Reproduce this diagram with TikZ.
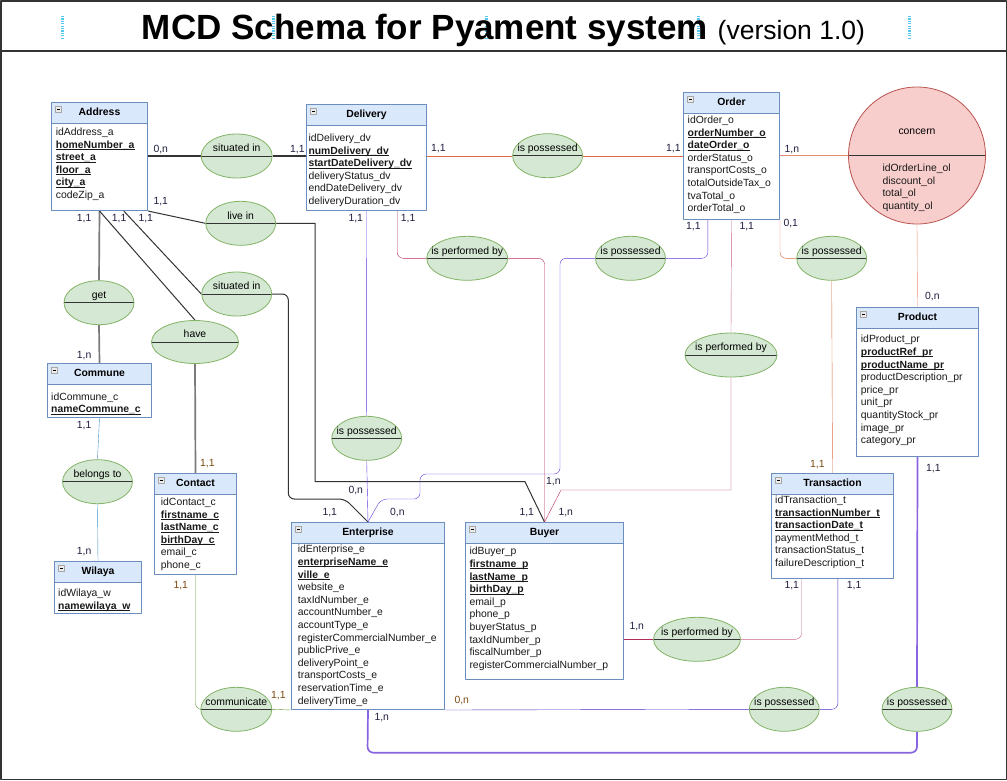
\documentclass[tikz,border=0pt]{standalone}
\usepackage{fontspec}
\setmainfont{Liberation Sans}
\usepackage{tikz}
\usetikzlibrary{shapes.geometric, backgrounds}

\definecolor{headfill}{HTML}{DAE8FC}
\definecolor{headline}{HTML}{6C8EBF}
\definecolor{relfill}{HTML}{D5E8D4}
\definecolor{relline}{HTML}{82B366}
\definecolor{ordfill}{HTML}{F8CECC}
\definecolor{ordline}{HTML}{B85450}
\definecolor{cardtext}{HTML}{1F1F3F}
\definecolor{cardbrown}{HTML}{7A4A10}
\definecolor{greyline}{HTML}{7A7A7A}
\definecolor{darkline}{HTML}{333333}
\definecolor{blueline}{HTML}{3F90CC}
\definecolor{greenline}{HTML}{5F9232}
\definecolor{violetA}{HTML}{6238E4}
\definecolor{violetB}{HTML}{4F2AC8}
\definecolor{violetC}{HTML}{8864E0}
\definecolor{crimsonA}{HTML}{B82A56}
\definecolor{rosy}{HTML}{CC648C}
\definecolor{orangeA}{HTML}{DE6C40}
\definecolor{salmon}{HTML}{E58C70}
\definecolor{handle}{HTML}{55C8F0}

\newcommand\keyattr[1]{\setbox0\hbox{\bfseries #1}\rlap{\rule[-1.7pt]{\wd0}{0.7pt}}\box0}
\newcommand\mkentity[6]{% name, left, top, width, height, title
  \node[ebody, minimum width=#4pt, minimum height=#5pt] (#1) at (#2,#3) {};
  \node[ehead, minimum width=#4pt] (#1-head) at (#2,#3) {#6};
  \node[emark] (#1-mark) at ([xshift=7.5pt,yshift=-7.5pt]#1.north west) {\rule{3.5pt}{0.6pt}};
}
\newcommand\mkattrs[4]{% name, x, first baseline, list
  \foreach \t [count=\i] in {#4}
    \node[attr] (#1-\i) at (#2, {#3+12.6*(\i-1)}) {\t};
}

\begin{document}
\begin{tikzpicture}[x=1pt, y=-1pt, font=\fontsize{10.4}{12.6}\selectfont, line join=round,
    ebody/.style={anchor=north west, draw=headline, fill=white, inner sep=0, line width=1pt},
    ehead/.style={anchor=north west, draw=headline, fill=headfill, inner sep=0, line width=1pt,
      minimum height=20.5pt, text height=7.5pt, text depth=2pt, font=\fontsize{10.4}{12.6}\selectfont\bfseries},
    emark/.style={draw=gray!70, fill=gray!15, minimum size=6pt, inner sep=0, line width=0.5pt},
    attr/.style={anchor=base west, inner sep=0, text=black!90},
    divider/.style={path picture={\draw[darkline, line width=0.9pt]
      (path picture bounding box.west) -- (path picture bounding box.east);}},
    rel/.style={ellipse, draw=relline, fill=relfill, minimum height=44pt, inner sep=0, line width=0.8pt, divider},
    rlab/.style={yshift=7pt, inner sep=0, text height=7.5pt, text depth=2pt},
    card/.style={anchor=west, inner sep=0, text=cardtext},
    handlemark/.style={handle, line width=3pt, dash pattern=on 1.2pt off 1.2pt}]

  \useasboundingbox (0,0) rectangle (1007,780);
  \draw[darkline, line width=1.5pt] (0.75,0.75) rectangle (1006.25,779.25);
  \draw[darkline, line width=1.2pt] (0,51) -- (1007,51);

  % title
  \foreach \hx in {62.3,273,486,698,909.5}
    \draw[handlemark] (\hx,16) -- (\hx,38);
  \node[anchor=base, inner sep=0] (title) at (503.5,39.3)
    {\fontsize{35}{36}\selectfont\bfseries MCD Schema for Pyament system
     \fontsize{26.5}{28}\selectfont\mdseries(version 1.0)};

  % entities
  \mkentity{addr}{51}{102}{96}{108}{Address}
  \mkattrs{addr}{55.7}{135.5}{idAddress\_a, \keyattr{homeNumber\_a}, \keyattr{street\_a}, \keyattr{floor\_a}, \keyattr{city\_a}, codeZip\_a}
  \mkentity{deliv}{306}{104}{120}{106}{Delivery}
  \mkattrs{deliv}{308.3}{141.5}{idDelivery\_dv, \keyattr{numDelivery\_dv}, \keyattr{startDateDelivery\_dv}, deliveryStatus\_dv, endDateDelivery\_dv, deliveryDuration\_dv}
  \mkentity{order}{683}{92}{96}{127}{Order}
  \mkattrs{order}{687.5}{123.5}{idOrder\_o, \keyattr{orderNumber\_o}, \keyattr{dateOrder\_o}, orderStatus\_o, transportCosts\_o, totalOutsideTax\_o, tvaTotal\_o, orderTotal\_o}
  \mkentity{commune}{47}{363}{104}{54}{Commune}
  \mkattrs{commune}{51}{400.2}{idCommune\_c, \keyattr{nameCommune\_c}}
  \mkentity{wilaya}{54}{561}{87}{52}{Wilaya}
  \mkattrs{wilaya}{58}{596.8}{idWilaya\_w, \keyattr{namewilaya\_w}}
  \mkentity{contact}{154}{473}{82}{101}{Contact}
  \mkattrs{contact}{160.7}{505.5}{idContact\_c, \keyattr{firstname\_c}, \keyattr{lastName\_c}, \keyattr{birthDay\_c}, email\_c, phone\_c}
  \mkentity{enterp}{291}{522}{153}{187}{Enterprise}
  \mkattrs{enterp}{297.7}{552.8}{idEnterprise\_e, \keyattr{enterpriseName\_e}, \keyattr{ville\_e}, website\_e, taxIdNumber\_e, accountNumber\_e, accountType\_e, registerCommercialNumber\_e, publicPrive\_e, deliveryPoint\_e, transportCosts\_e, reservationTime\_e, deliveryTime\_e}
  \mkentity{buyer}{465}{522}{158}{157}{Buyer}
  \mkattrs{buyer}{469.3}{554.8}{idBuyer\_p, \keyattr{firstname\_p}, \keyattr{lastName\_p}, \keyattr{birthDay\_p}, email\_p, phone\_p, buyerStatus\_p, taxIdNumber\_p, fiscalNumber\_p, registerCommercialNumber\_p}
  \mkentity{trans}{771}{473}{122}{105}{Transaction}
  \mkattrs{trans}{775}{503.5}{idTransaction\_t, \keyattr{transactionNumber\_t}, \keyattr{transactionDate\_t}, paymentMethod\_t, transactionStatus\_t, failureDescription\_t}
  \mkentity{product}{856}{307}{122}{149}{Product}
  \mkattrs{product}{860.7}{342.8}{idProduct\_pr, \keyattr{productRef\_pr}, \keyattr{productName\_pr}, productDescription\_pr, price\_pr, unit\_pr, quantityStock\_pr, image\_pr, category\_pr}

  % associations
  \node[rel, minimum width=71pt, label={[rlab]center:situated in}] (sit1) at (236.7,156) {};
  \node[rel, minimum width=70pt, label={[rlab]center:live in}] (livein) at (240.7,223.3) {};
  \node[rel, minimum width=70pt, label={[rlab]center:situated in}] (sit2) at (236.7,294) {};
  \node[rel, minimum width=87pt, minimum height=43pt, label={[rlab]center:have}] (have) at (195,342) {};
  \node[rel, minimum width=70pt, label={[rlab]center:get}] (get) at (99,302.7) {};
  \node[rel, minimum width=70pt, label={[rlab]center:belongs to}] (belongs) at (97.5,481.7) {};
  \node[rel, minimum width=71pt, label={[rlab]center:communicate}] (comm) at (236.3,709.3) {};
  \node[rel, minimum width=70pt, label={[rlab]center:is possessed}] (possDE) at (366.7,438.3) {};
  \node[rel, minimum width=81pt, label={[rlab]center:is performed by}] (perfDB) at (467.2,258.3) {};
  \node[rel, minimum width=70pt, label={[rlab]center:is possessed}] (possDO) at (547.6,155.7) {};
  \node[rel, minimum width=70pt, label={[rlab]center:is possessed}] (possOE) at (630.5,258.3) {};
  \node[rel, minimum width=92pt, label={[rlab]center:is performed by}] (perfOB) at (731,355) {};
  \node[rel, minimum width=70pt, label={[rlab]center:is possessed}] (possOT) at (831.7,258.3) {};
  \node[rel, minimum width=87pt, label={[rlab]center:is performed by}] (perfBT) at (697,639.3) {};
  \node[rel, minimum width=70pt, label={[rlab]center:is possessed}] (possTE) at (784.3,709.3) {};
  \node[rel, minimum width=70pt, label={[rlab]center:is possessed}] (possPE) at (917,709.3) {};
  \node[circle, draw=ordline, fill=ordfill, minimum size=137pt, inner sep=0, line width=0.8pt, divider,
    label={[yshift=24pt, inner sep=0]center:concern}] (concern) at (917,155.5) {};
  \mkattrs{concern}{882.3}{171.5}{idOrderLine\_ol, discount\_ol, total\_ol, quantity\_ol}

  % links
  \begin{scope}[on background layer, line width=1.5pt]
    \draw[darkline, line width=1.2pt] (addr.east |- sit1) -- (sit1) -- (deliv.west |- sit1);
    \draw[darkline, line width=1pt] (addr.south east) -- (livein.west);
    \draw[darkline, line width=1pt] (livein.east) -- (315,223.3) -- (315,481.7) -- (525,481.7) -- (buyer.north);
    \draw[darkline, line width=1pt] ([xshift=24.3pt]addr.south) -- (sit2.west);
    \draw[darkline, line width=1pt, rounded corners=6pt] (sit2.east) -- (288.3,294) -- (288.3,499)
      -- (345,499) -- (enterp.north);
    \draw[greyline, line width=1.7pt] (addr.south) -- (get.north) (get.south) -- (commune.north);
    \draw[darkline, line width=1pt] (addr.south) -- (have.north);
    \draw[greyline, line width=1.7pt] (have.south) -- (contact.north);
    \draw[blueline] (commune.south) -- (belongs.north) (belongs.south) -- (wilaya.north);
    \draw[greenline, rounded corners=6pt] (contact.south) |- (comm.west);
    \draw[greenline] (comm.east) -- (enterp.south west);
    \draw[violetA] (deliv.south) -- (possDE.north) (possDE.south) -- (enterp.north);
    \draw[crimsonA, rounded corners=6pt] ([xshift=30.7pt]deliv.south) |- (perfDB.west);
    \draw[crimsonA, rounded corners=6pt] (perfDB.east) -| (buyer.north);
    \draw[orangeA] (deliv.east |- possDO) -- (possDO) -- (order.west |- possDO);
    \draw[violetA, rounded corners=6pt] ([xshift=-23.7pt]order.south) |- (possOE.east);
    \draw[violetA, rounded corners=6pt] (possOE.west) -- (560,258.3) -- (560,474) -- (420,474)
      -- (420,499) -- (381,499) -- (enterp.north);
    \draw[rosy] (order.south) -- (perfOB.north);
    \draw[crimsonA] (perfOB.south) -- (731,490) -- (561,490) -- (buyer.north);
    \draw[orangeA, rounded corners=6pt] (order.south east) |- (possOT.west);
    \draw[orangeA] (possOT.south) -- (trans.north);
    \draw[salmon] (order.east |- concern.west) -- (concern.west);
    \draw[salmon] (concern.south) -- (product.north);
    \draw[crimsonA] (buyer.east |- perfBT) -- (perfBT.west);
    \draw[rosy, rounded corners=6pt] (perfBT.east) -| ([xshift=-31pt]trans.south);
    \draw[violetB, rounded corners=6pt] ([xshift=5.3pt]trans.south) |- (possTE.east);
    \draw[violetB] (possTE.west) -- (enterp.south east);
    \draw[violetC, line width=1.7pt] (product.south) -- (possPE.north);
    \draw[violetC, line width=1.7pt, rounded corners=6pt] (possPE.south) -- (917,752.7)
      -- (367.5,752.7) -- (enterp.south);
  \end{scope}

  % cardinalities
  \foreach \x/\y/\t [count=\i] in {153.3/149.3/{0,n}, 290/149.3/{1,1}, 431/149/{1,1}, 666/149/{1,1},
      784.4/150/{1,n}, 925/297/{0,n}, 153.3/201.7/{1,1}, 76.7/218.3/{1,1}, 111.7/218.3/{1,1},
      138.3/218.3/{1,1}, 76.7/355.7/{1,n}, 76.7/425.7/{1,1}, 76.7/551.7/{1,n}, 348.3/218.3/{1,1},
      348.3/490.7/{0,n}, 400.7/218.3/{1,1}, 546/481.7/{1,n}, 322.3/512.3/{1,1}, 390/512.3/{0,n},
      519.3/512.3/{1,1}, 558.3/512.3/{1,n}, 686/226.7/{1,1}, 739.3/226.7/{1,1}, 783.3/223.3/{0,1},
      926/468.3/{1,1}, 629.3/626.7/{1,n}, 784.3/586/{1,1}, 846.7/586/{1,1}, 374.3/717.7/{1,n}}
    \node[card] (card\i) at (\x,\y) {\t};
  \foreach \x/\y/\t [count=\i] in {200/464/{1,1}, 173.3/586/{1,1}, 271/696/{1,1}, 810/464.3/{1,1},
      454.3/700.3/{0,n}}
    \node[card, text=cardbrown] (cardb\i) at (\x,\y) {\t};
\end{tikzpicture}
\end{document}
